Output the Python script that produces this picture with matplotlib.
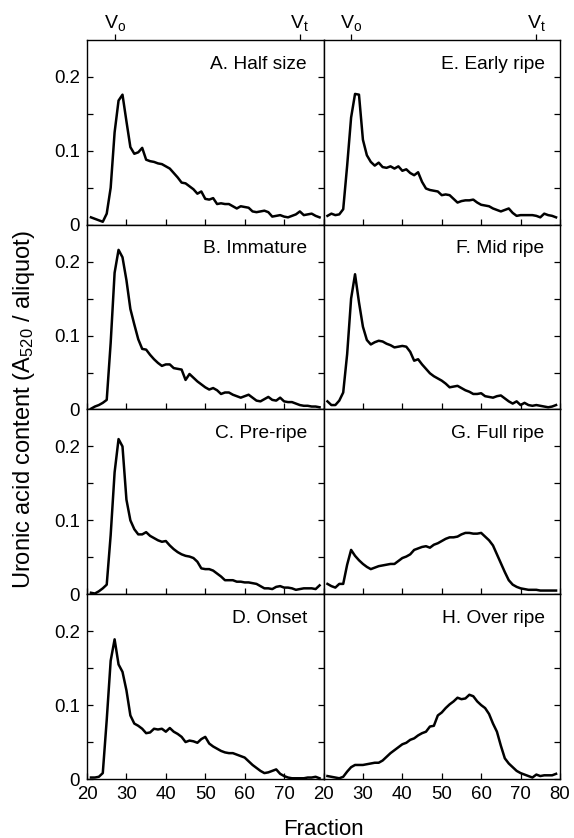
# Профили элюции уроновых кислот (8 стадий созревания)
import numpy as np
import matplotlib.pyplot as plt

plt.rcParams['font.family'] = ['Liberation Sans', 'DejaVu Sans']
plt.rcParams['mathtext.default'] = 'regular'

# --- данные ---
fraction = np.arange(21, 80)

half_size = [0.010, 0.008, 0.006, 0.004, 0.015, 0.050, 0.125, 0.168, 0.176, 0.140,
             0.105, 0.096, 0.098, 0.104, 0.088, 0.086, 0.085, 0.083, 0.082, 0.079,
             0.076, 0.070, 0.064, 0.057, 0.056, 0.052, 0.048, 0.042, 0.045, 0.035,
             0.034, 0.036, 0.028, 0.029, 0.028, 0.028, 0.025, 0.022, 0.025, 0.024,
             0.023, 0.018, 0.017, 0.018, 0.019, 0.017, 0.011, 0.012, 0.013, 0.011,
             0.010, 0.012, 0.014, 0.018, 0.013, 0.014, 0.015, 0.012, 0.010]

immature = [0.001, 0.004, 0.006, 0.009, 0.013, 0.090, 0.185, 0.216, 0.206, 0.175,
            0.136, 0.115, 0.095, 0.082, 0.081, 0.074, 0.068, 0.063, 0.059, 0.061,
            0.061, 0.056, 0.055, 0.054, 0.040, 0.048, 0.043, 0.038, 0.034, 0.030,
            0.027, 0.029, 0.026, 0.021, 0.023, 0.023, 0.020, 0.018, 0.016, 0.018,
            0.020, 0.016, 0.012, 0.011, 0.014, 0.017, 0.013, 0.012, 0.016, 0.011,
            0.010, 0.010, 0.008, 0.006, 0.005, 0.005, 0.004, 0.004, 0.003]

pre_ripe = [0.002, 0.001, 0.004, 0.008, 0.013, 0.080, 0.165, 0.210, 0.200, 0.128,
            0.100, 0.088, 0.081, 0.081, 0.084, 0.079, 0.076, 0.073, 0.071, 0.072,
            0.066, 0.061, 0.057, 0.054, 0.052, 0.051, 0.049, 0.044, 0.035, 0.034,
            0.034, 0.032, 0.028, 0.024, 0.019, 0.019, 0.019, 0.017, 0.017, 0.016,
            0.016, 0.015, 0.014, 0.011, 0.008, 0.008, 0.007, 0.010, 0.011, 0.009,
            0.009, 0.008, 0.006, 0.007, 0.008, 0.008, 0.008, 0.007, 0.012]

onset = [0.002, 0.002, 0.003, 0.008, 0.080, 0.160, 0.189, 0.155, 0.145, 0.120,
         0.086, 0.075, 0.072, 0.068, 0.062, 0.063, 0.068, 0.067, 0.068, 0.064,
         0.069, 0.064, 0.061, 0.057, 0.050, 0.052, 0.051, 0.049, 0.054, 0.057,
         0.048, 0.044, 0.041, 0.038, 0.036, 0.035, 0.035, 0.033, 0.031, 0.029,
         0.024, 0.019, 0.015, 0.011, 0.008, 0.009, 0.011, 0.013, 0.007, 0.004,
         0.002, 0.001, 0.001, 0.001, 0.001, 0.002, 0.002, 0.003, 0.001]

early_ripe = [0.012, 0.015, 0.013, 0.014, 0.021, 0.080, 0.145, 0.177, 0.176, 0.115,
              0.094, 0.085, 0.080, 0.084, 0.078, 0.077, 0.079, 0.076, 0.079, 0.073,
              0.075, 0.070, 0.067, 0.071, 0.058, 0.049, 0.047, 0.046, 0.045, 0.040,
              0.041, 0.040, 0.035, 0.030, 0.032, 0.033, 0.033, 0.034, 0.030, 0.027,
              0.026, 0.025, 0.022, 0.020, 0.018, 0.020, 0.022, 0.016, 0.012, 0.013,
              0.013, 0.013, 0.013, 0.012, 0.010, 0.015, 0.013, 0.012, 0.010]

mid_ripe = [0.011, 0.006, 0.006, 0.012, 0.023, 0.075, 0.150, 0.183, 0.145, 0.112,
            0.094, 0.088, 0.091, 0.093, 0.092, 0.089, 0.087, 0.084, 0.085, 0.086,
            0.085, 0.078, 0.066, 0.068, 0.061, 0.055, 0.049, 0.045, 0.042, 0.039,
            0.035, 0.030, 0.031, 0.032, 0.029, 0.026, 0.024, 0.021, 0.021, 0.022,
            0.018, 0.017, 0.016, 0.018, 0.019, 0.015, 0.011, 0.008, 0.011, 0.006,
            0.009, 0.006, 0.005, 0.006, 0.005, 0.004, 0.003, 0.004, 0.006]

full_ripe = [0.014, 0.011, 0.009, 0.014, 0.014, 0.040, 0.060, 0.052, 0.046, 0.041,
             0.037, 0.034, 0.036, 0.038, 0.039, 0.040, 0.041, 0.041, 0.045, 0.049,
             0.051, 0.054, 0.060, 0.062, 0.064, 0.065, 0.063, 0.067, 0.069, 0.072,
             0.075, 0.077, 0.077, 0.078, 0.081, 0.083, 0.083, 0.082, 0.082, 0.083,
             0.078, 0.073, 0.066, 0.054, 0.042, 0.030, 0.019, 0.013, 0.010, 0.008,
             0.007, 0.006, 0.006, 0.006, 0.005, 0.005, 0.005, 0.005, 0.005]

over_ripe = [0.004, 0.003, 0.002, 0.001, 0.003, 0.010, 0.016, 0.019, 0.019, 0.019,
             0.020, 0.021, 0.022, 0.022, 0.025, 0.030, 0.035, 0.039, 0.043, 0.047,
             0.049, 0.053, 0.055, 0.059, 0.062, 0.064, 0.071, 0.072, 0.086, 0.090,
             0.096, 0.101, 0.105, 0.110, 0.108, 0.109, 0.114, 0.112, 0.105, 0.100,
             0.096, 0.088, 0.075, 0.064, 0.045, 0.028, 0.021, 0.016, 0.011, 0.008,
             0.006, 0.004, 0.002, 0.006, 0.004, 0.005, 0.005, 0.005, 0.007]

left_titles = ['A. Half size', 'B. Immature', 'C. Pre-ripe', 'D. Onset']
right_titles = ['E. Early ripe', 'F. Mid ripe', 'G. Full ripe', 'H. Over ripe']
left_series = [half_size, immature, pre_ripe, onset]
right_series = [early_ripe, mid_ripe, full_ripe, over_ripe]

# Vo и Vt — объём пустот и полный объём колонки (номер фракции)
volume_marks = [27, 74]
volume_labels = ['V$_{o}$', 'V$_{t}$']

x_ticks = [20, 30, 40, 50, 60, 70, 80]
y_ticks = [0, 0.05, 0.1, 0.15, 0.2]
y_tick_labels = ['0', '', '0.1', '', '0.2']


def style_axis(ax, col, row):
    ax.set_xlim(20, 80)
    ax.set_ylim(0, 0.25)
    ax.set_xticks(x_ticks)
    ax.set_yticks(y_ticks)
    ax.tick_params(direction='in', length=4.5, width=0.9, labelsize=13.4, pad=5,
                   top=False, bottom=True, left=(col == 0), right=True,
                   labelleft=(col == 0), labelbottom=(row == 3))
    if col == 0:
        ax.set_yticklabels(y_tick_labels)
    if row == 3:
        if col == 0:
            ax.set_xticklabels([str(t) for t in x_ticks[:-1]] + [''])
        else:
            ax.set_xticklabels([str(t) for t in x_ticks])
    for sp in ax.spines.values():
        sp.set_linewidth(1.0)


fig = plt.figure(figsize=(5.74, 8.38), dpi=100)
gs = fig.add_gridspec(4, 2, left=0.1516, right=0.9756, bottom=0.0704, top=0.9523,
                      hspace=0, wspace=0)

for col, (titles, series) in enumerate([(left_titles, left_series),
                                        (right_titles, right_series)]):
    for row in range(4):
        ax = fig.add_subplot(gs[row, col])
        ax.plot(fraction, series[row], color='black', lw=1.8)
        style_axis(ax, col, row)
        ax.text(0.93 if col == 0 else 0.935, 0.845, titles[row], transform=ax.transAxes,
                ha='right', va='baseline', fontsize=13.8)
        if row == 0:
            top = ax.secondary_xaxis('top')
            top.set_xticks(volume_marks, labels=volume_labels)
            top.tick_params(direction='out', length=4, width=0.9, labelsize=14, pad=1)
            top.spines['top'].set_visible(False)

fig.text(0.5636, 0.004, 'Fraction', ha='center', va='baseline', fontsize=16)
fig.text(0.042, 0.511, 'Uronic acid content (A$_{520}$ / aliquot)', rotation=90,
         ha='center', va='center', fontsize=17)

fig.savefig('out.png', dpi=100)
